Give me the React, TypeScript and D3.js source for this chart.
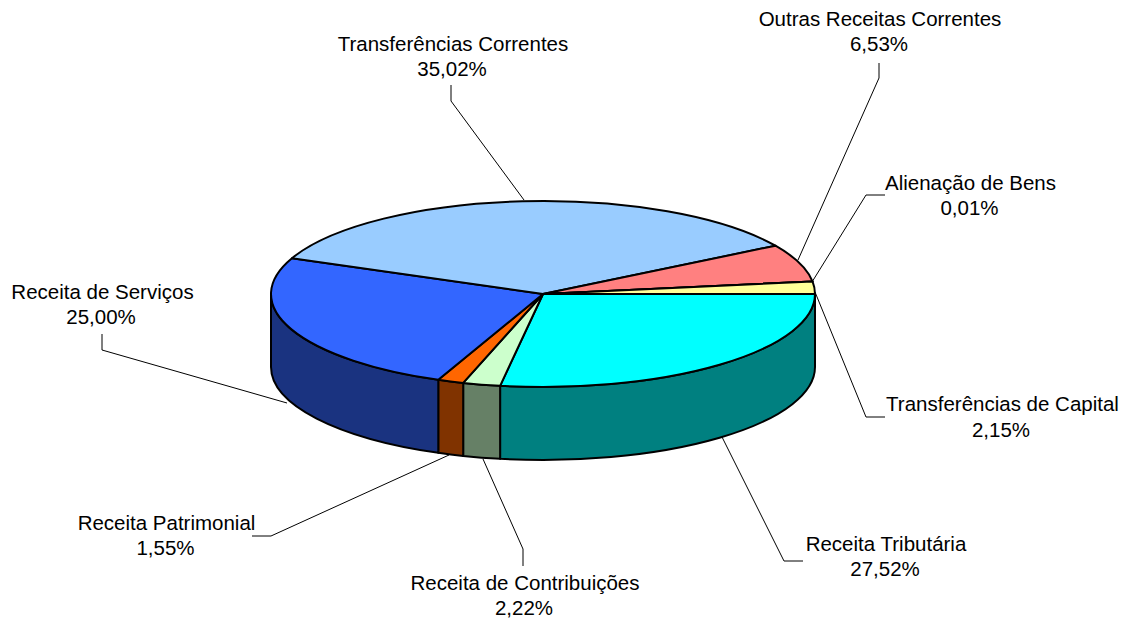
import React from "react";
import * as d3 from "d3";

const categories = [
  "Receita Tributária",
  "Receita de Contribuições",
  "Receita Patrimonial",
  "Receita de Serviços",
  "Transferências Correntes",
  "Outras Receitas Correntes",
  "Alienação de Bens",
  "Transferências de Capital",
];
const shares = [27.52, 2.22, 1.55, 25.0, 35.02, 6.53, 0.01, 2.15];
const shareLabels = ["27,52%", "2,22%", "1,55%", "25,00%", "35,02%", "6,53%", "0,01%", "2,15%"];
const topColors = ["#00FFFF", "#CCFFCC", "#FF6600", "#3366FF", "#99CCFF", "#FF8080", "#FFFF99", "#FFFF99"];
const sideColors = ["#008080", "#668066", "#803300", "#1A3380", "#4D6680", "#804040", "#808050", "#808050"];
// Label text centre x and baseline y, for the name line and the percentage line
const labelX = [886, 525, 166.5, 102.5, 453, 880, 970.5, 1002.5];
const labelY = [551, 590, 530, 299, 51, 26, 190, 411];
const percentX = [885, 524, 165.5, 101, 452, 879, 969.5, 1001];
const percentY = [576, 615, 555, 324, 76, 51, 215, 437];
// Leader lines
const leaders: [number, number][][] = [
  [[803, 561], [784, 561], [722, 437]],
  [[523, 566], [523, 549], [483, 459]],
  [[252, 536], [271, 536], [449, 455]],
  [[102, 334], [102, 350], [287, 403]],
  [[451, 85], [451, 101], [524, 200]],
  [[879, 63], [879, 78], [798, 260]],
  [[885, 195], [866, 195], [812, 282]],
  [[885, 417], [866, 417], [815, 292]],
];

const WIDTH = 1132;
const HEIGHT = 621;
const cx = 543;
const cy = 294;
const rx = 272;
const ry = 93;
const depth = 73;
const FONT = "Liberation Sans, Arial, sans-serif";

const arcs = d3
  .pie<number>()
  .sort(null)
  .startAngle(Math.PI / 2)
  .endAngle(Math.PI / 2 + 2 * Math.PI)(shares);

const px = (a: number) => cx + rx * Math.sin(a);
const py = (a: number) => cy - ry * Math.cos(a);

const topPath = (a0: number, a1: number) => {
  const large = a1 - a0 > Math.PI ? 1 : 0;
  return `M${cx},${cy}L${px(a0)},${py(a0)}A${rx},${ry} 0 ${large} 1 ${px(a1)},${py(a1)}Z`;
};
const sidePath = (a0: number, a1: number) => {
  const s = Math.max(a0, Math.PI / 2);
  const e = Math.min(a1, (3 * Math.PI) / 2);
  if (e <= s) return null;
  return (
    `M${px(s)},${py(s)}A${rx},${ry} 0 0 1 ${px(e)},${py(e)}` +
    `L${px(e)},${py(e) + depth}A${rx},${ry} 0 0 0 ${px(s)},${py(s) + depth}Z`
  );
};

const line = d3.line();

export default function App() {
  return (
    <svg
      width={WIDTH}
      height={HEIGHT}
      viewBox={`0 0 ${WIDTH} ${HEIGHT}`}
      style={{ position: "absolute", left: 0, top: 0, background: "#fff" }}
    >
      <g fill="none" stroke="#000" strokeWidth={1}>
        {leaders.map((pts, i) => (
          <path key={i} d={line(pts) ?? ""} />
        ))}
      </g>
      <g stroke="#000" strokeWidth={2} strokeLinejoin="round">
        {arcs.map((d, i) => {
          const p = sidePath(d.startAngle, d.endAngle);
          return p ? <path key={i} d={p} fill={sideColors[i]} /> : null;
        })}
        {arcs.map((d, i) => (
          <path key={i} d={topPath(d.startAngle, d.endAngle)} fill={topColors[i]} />
        ))}
      </g>
      <g fontFamily={FONT} fontSize={20.5} fill="#000" textAnchor="middle">
        {categories.map((c, i) => (
          <text key={c}>
            <tspan x={labelX[i]} y={labelY[i]}>{c}</tspan>
            <tspan x={percentX[i]} y={percentY[i]}>{shareLabels[i]}</tspan>
          </text>
        ))}
      </g>
    </svg>
  );
}
